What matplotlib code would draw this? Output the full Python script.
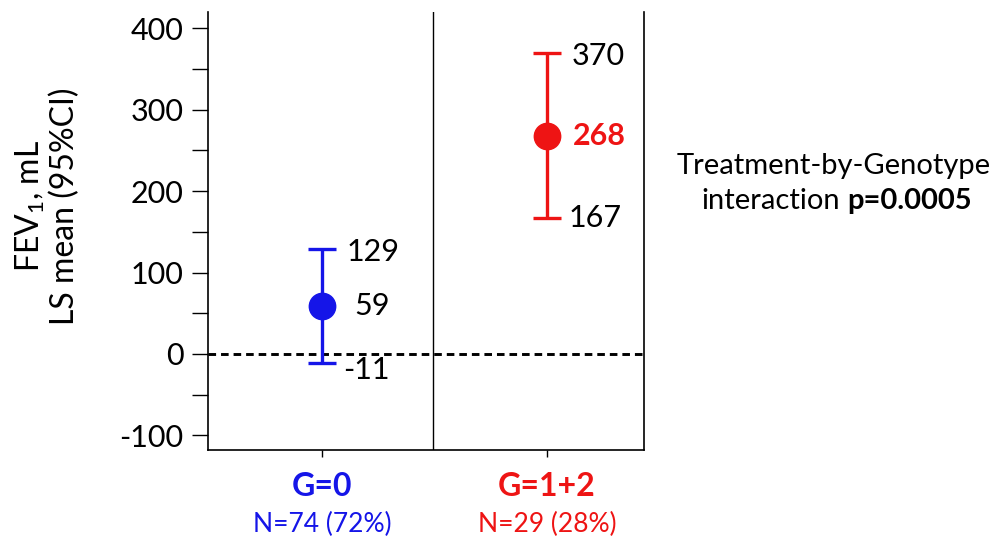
import matplotlib
matplotlib.use("Agg")
import matplotlib.pyplot as plt
from matplotlib.ticker import MultipleLocator

plt.rcParams["font.family"] = ["Lato", "DejaVu Sans"]
plt.rcParams["mathtext.fontset"] = "custom"
plt.rcParams["mathtext.rm"] = "Lato"
plt.rcParams["mathtext.bf"] = "Lato:bold"

# Data
groups = ["G=0", "G=1+2"]
n_labels = ["N=74 (72%)", "N=29 (28%)"]
means = [59, 268]
lower = [-11, 167]
upper = [129, 370]
colors = ["#1515e8", "#ee1414"]

fig = plt.figure(figsize=(10.06, 5.38), dpi=100)
ax = fig.add_axes([0.2068, 0.1636, 0.4334, 0.814])

xpos = [0, 1]
for x, m, lo, hi, c in zip(xpos, means, lower, upper, colors):
    ax.errorbar(x, m, yerr=[[m - lo], [hi - m]], fmt="o", color=c, ms=19,
                capsize=10, capthick=2.4, elinewidth=2.4, zorder=3)
    ax.text(x + 0.11, hi - 4, str(hi), fontsize=22, va="center", ha="left")
    # push the lower label below the zero line when it sits near it
    ylo = lo - 9 if abs(lo) < 30 else lo
    ax.text(x + 0.095, ylo, str(lo), fontsize=22, va="center", ha="left")

# mean labels: the significant one bold and coloured
ax.text(xpos[0] + 0.145, means[0], str(means[0]), fontsize=22, va="center", ha="left")
ax.text(xpos[1] + 0.115, means[1], str(means[1]), fontsize=22, va="center", ha="left",
        color=colors[1], fontweight="bold")

ax.axhline(0, color="black", ls=(0, (2.6, 1.7)), lw=2.1, zorder=2)
ax.axvline(0.493, color="black", lw=1)

ax.set_xlim(-0.507, 1.431)
ax.set_ylim(-118, 420)
ax.yaxis.set_major_locator(MultipleLocator(100))
ax.yaxis.set_minor_locator(MultipleLocator(50))
ax.tick_params(axis="y", which="both", direction="out", length=11.5, width=1, labelsize=22, pad=6)
ax.set_yticks([-100, 0, 100, 200, 300, 400])
ax.set_yticklabels(["-100", "0", "100", "200", "300", "400"])

ax.set_xticks(xpos)
ax.set_xticklabels([])
ax.tick_params(axis="x", direction="out", length=5, width=1)

for x, g, n, c in zip(xpos, groups, n_labels, colors):
    ax.text(x, -163, g, color=c, fontsize=23, fontweight="bold", ha="center", va="center")
    ax.text(x, -210, n, color=c, fontsize=19, ha="center", va="center")

ax.spines["top"].set_visible(False)
for s in ["left", "right", "bottom"]:
    ax.spines[s].set_linewidth(1.2)

ax.text(-0.369, 0.557, "FEV$_1$, mL\nLS mean (95%CI)", fontsize=23, rotation=90,
        ha="center", va="center", multialignment="center", linespacing=1.1,
        transform=ax.transAxes)

fig.text(0.829, 0.691, "Treatment-by-Genotype", fontsize=21, ha="center", va="center")
fig.text(0.835, 0.612, "interaction", fontsize=21, ha="right", va="baseline")
fig.text(0.842, 0.612, "p=0.0005", fontsize=21, ha="left", va="baseline", fontweight="bold")

fig.savefig("out.png", dpi=100)
